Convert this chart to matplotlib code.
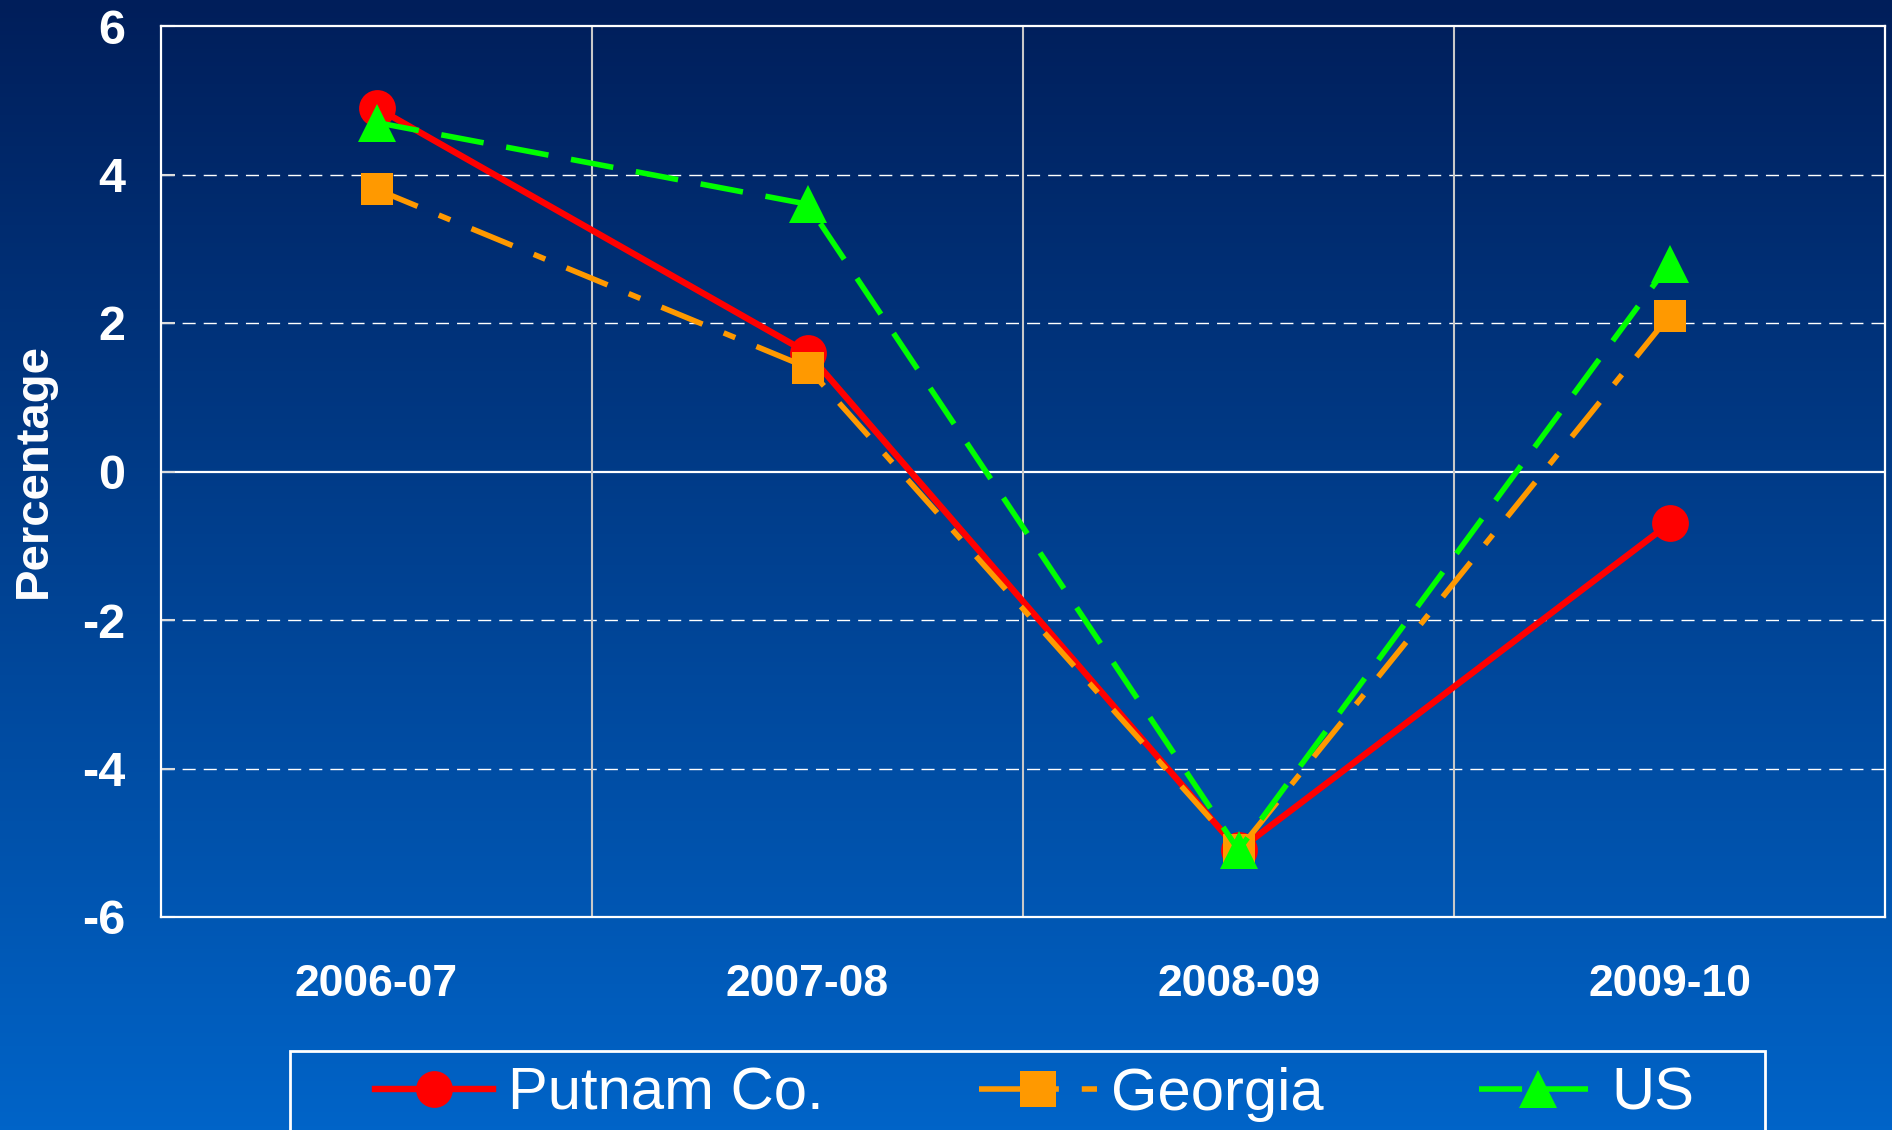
import matplotlib
matplotlib.use("Agg")
import matplotlib.pyplot as plt
import numpy as np
from matplotlib.patches import Rectangle

categories = ["2006-07", "2007-08", "2008-09", "2009-10"]
putnam = [4.9, 1.6, -5.1, -0.7]
georgia = [3.8, 1.4, -5.1, 2.1]
us = [4.7, 3.6, -5.1, 2.8]
yticks = [-6, -4, -2, 0, 2, 4, 6]
series_names = ["Putnam Co.", "Georgia", "US"]

plt.rcParams['lines.scale_dashes'] = False

W, H = 1892, 1130
fig = plt.figure(figsize=(W / 100, H / 100), dpi=100)

# gradient background
bg = fig.add_axes([0, 0, 1, 1], zorder=-10)
top = np.array([0, 30, 90]) / 255
bot = np.array([0, 100, 200]) / 255
t = np.linspace(0, 1, 256)[:, None]
grad = top[None, :] * (1 - t) + bot[None, :] * t
bg.imshow(grad[:, None, :], aspect='auto', extent=[0, 1, 0, 1])
bg.axis('off')

L, R, T, B = 161, 1885, 26, 917
ax = fig.add_axes([L / W, 1 - B / H, (R - L) / W, (B - T) / H])
ax.set_facecolor('none')

x = np.arange(len(categories))
ax.plot(x, putnam, color='#ff0000', lw=4.6, marker='o', ms=26.5, mew=0,
        label=series_names[0], zorder=3)
ax.plot(x, georgia, color='#ff9900', lw=4.0, marker='s', ms=23, mew=0,
        linestyle=(0, (32, 16.5, 9, 16.5)), label=series_names[1], zorder=4)
ax.plot(x, us, color='#00ff00', lw=4.0, marker='^', ms=27, mew=0,
        linestyle=(0, (31, 16.5)), label=series_names[2], zorder=5)

ax.set_xlim(-0.5, len(categories) - 0.5)
ax.set_ylim(-6, 6)
ax.set_yticks(yticks)
ax.set_yticklabels([str(v) for v in yticks])
ax.set_xticks(x)
ax.set_xticklabels(categories)
ax.set_xticks([0.5, 1.5, 2.5], minor=True)

for v in [-4, -2, 2, 4]:
    ax.axhline(v, color='white', lw=1.0, linestyle=(0, (9.4, 5.8)), zorder=1)
ax.axhline(0, color='white', lw=1.6, zorder=1)
ax.grid(axis='x', which='minor', color='#c8c8c8', lw=1.5, zorder=1)

for s in ax.spines.values():
    s.set_color('white')
    s.set_linewidth(1.6)

ax.tick_params(axis='y', direction='in', length=10, width=1.5, color='#dddddd',
               pad=26, labelcolor='white', labelsize=35)
ax.tick_params(axis='x', which='both', length=0, pad=34, labelcolor='white', labelsize=32)
for lab in ax.get_xticklabels() + ax.get_yticklabels():
    lab.set_family('Liberation Sans')
    lab.set_fontweight('bold')

fig.text(34 / W, 1 - 471 / H, "Percentage", rotation=90, ha='center', va='center',
         color='white', fontsize=34, fontweight='bold', family='Liberation Sans')

# legend frame
fig.patches.append(Rectangle((290 / W, -0.05), (1765 - 290) / W, 1 - 1051 / H + 0.05,
                             transform=fig.transFigure, facecolor='none',
                             edgecolor='white', lw=2, zorder=5))

leg = ax.legend(loc='center left', bbox_to_anchor=(375 / W, 1 - 1094 / H),
                bbox_transform=fig.transFigure, ncol=3,
                frameon=False, handlelength=1.98, handletextpad=0.24,
                columnspacing=2.6, borderpad=0, borderaxespad=0, markerscale=1.0,
                prop={'family': 'Liberation Sans', 'size': 43})
for txt in leg.get_texts():
    txt.set_color('white')
for h, ms in zip(leg.legend_handles, [26.5, 26, 27]):
    h.set_markersize(ms)

fig.savefig('out.png', dpi=100)
